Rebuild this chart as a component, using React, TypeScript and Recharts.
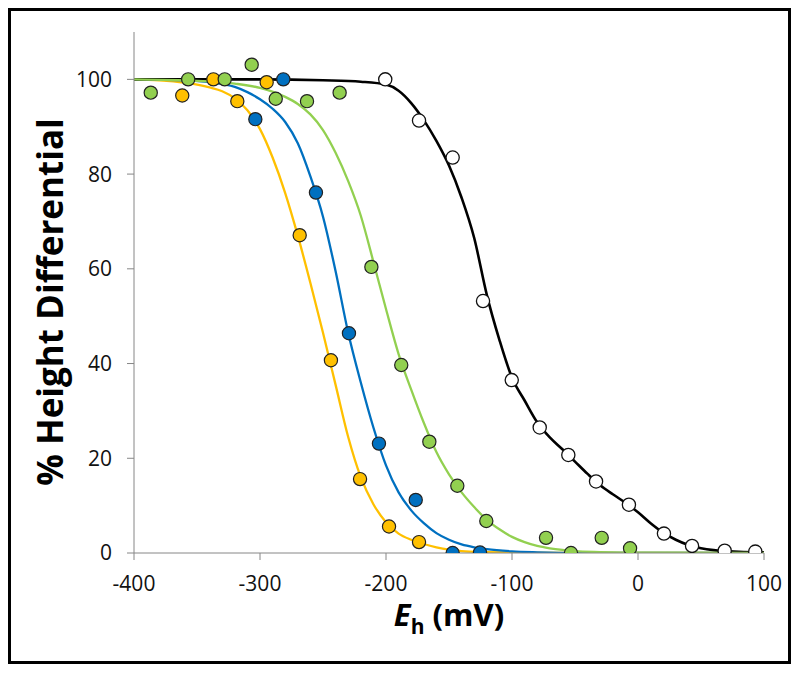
import React from 'react';
import { ComposedChart, Line, Scatter, XAxis, YAxis } from 'recharts';

const xTicks = [-400, -300, -200, -100, 0, 100];
const yTicks = [0, 20, 40, 60, 80, 100];

// Measured points (Eh mV, % height differential)
const blackPoints = [
  { x: -200.6, y: 100 }, { x: -173.8, y: 91.3 }, { x: -147.1, y: 83.5 }, { x: -123, y: 53.2 },
  { x: -100.2, y: 36.5 }, { x: -78, y: 26.5 }, { x: -55.3, y: 20.7 }, { x: -33.3, y: 15.1 },
  { x: -7.2, y: 10.2 }, { x: 20.6, y: 4.1 }, { x: 42.9, y: 1.5 }, { x: 68.8, y: 0.5 }, { x: 93.1, y: 0.3 },
];
const bluePoints = [
  { x: -303.7, y: 91.6 }, { x: -281.5, y: 100 }, { x: -255.6, y: 76.1 }, { x: -229.4, y: 46.4 },
  { x: -205.6, y: 23.1 }, { x: -176.4, y: 11.2 }, { x: -147.1, y: 0 }, { x: -125.4, y: 0.1 },
];
const yellowPoints = [
  { x: -361.7, y: 96.6 }, { x: -337, y: 100 }, { x: -318, y: 95.4 }, { x: -294.7, y: 99.4 },
  { x: -268.5, y: 67.1 }, { x: -243.7, y: 40.7 }, { x: -220.6, y: 15.6 }, { x: -197.6, y: 5.6 },
  { x: -173.8, y: 2.3 },
];
const greenPoints = [
  { x: -386.7, y: 97.2 }, { x: -357, y: 100 }, { x: -328, y: 100 }, { x: -306.6, y: 103.1 },
  { x: -287.5, y: 95.9 }, { x: -262.7, y: 95.4 }, { x: -236.8, y: 97.2 }, { x: -211.6, y: 60.4 },
  { x: -187.9, y: 39.7 }, { x: -165.6, y: 23.5 }, { x: -143.4, y: 14.2 }, { x: -120.4, y: 6.75 },
  { x: -73, y: 3.2 }, { x: -53.2, y: 0 }, { x: -28.8, y: 3.2 }, { x: -6.3, y: 1.0 },
];

// Fitted curves
const blackCurve = [
  { x: -400, y: 100 }, { x: -300, y: 100 }, { x: -250, y: 99.8 }, { x: -220, y: 99.5 },
  { x: -200, y: 98.9 }, { x: -190, y: 97.6 }, { x: -180, y: 95 }, { x: -170, y: 91.4 },
  { x: -160, y: 87 }, { x: -150, y: 81.8 }, { x: -140, y: 75 }, { x: -130, y: 66.5 },
  { x: -120, y: 54.5 }, { x: -110, y: 45 }, { x: -100, y: 37 }, { x: -90, y: 32.2 },
  { x: -80, y: 27.6 }, { x: -70, y: 24.4 }, { x: -60, y: 21.9 }, { x: -50, y: 19.3 },
  { x: -40, y: 16.7 }, { x: -30, y: 14.3 }, { x: -20, y: 12.4 }, { x: -10, y: 10.6 },
  { x: 0, y: 8.6 }, { x: 10, y: 6.3 }, { x: 20, y: 4.3 }, { x: 30, y: 2.8 }, { x: 40, y: 1.7 },
  { x: 50, y: 1.0 }, { x: 60, y: 0.6 }, { x: 70, y: 0.4 }, { x: 80, y: 0.25 }, { x: 100, y: 0.15 },
];
const yellowCurve = [
  { x: -400, y: 100 }, { x: -380, y: 99.8 }, { x: -360, y: 99.3 }, { x: -340, y: 98.3 },
  { x: -330, y: 97.5 }, { x: -320, y: 96 }, { x: -310, y: 93.5 }, { x: -300, y: 89.5 },
  { x: -290, y: 83.5 }, { x: -280, y: 76 }, { x: -270, y: 67 }, { x: -260, y: 57 },
  { x: -250, y: 46.5 }, { x: -240, y: 35.5 }, { x: -230, y: 24.5 }, { x: -220, y: 16 },
  { x: -210, y: 10.3 }, { x: -200, y: 6.5 }, { x: -190, y: 4.1 }, { x: -180, y: 2.8 },
  { x: -170, y: 1.9 }, { x: -160, y: 1.2 }, { x: -150, y: 0.7 }, { x: -140, y: 0.4 },
  { x: -120, y: 0.2 }, { x: -100, y: 0.1 }, { x: -50, y: 0 }, { x: 100, y: 0 },
];
const blueCurve = [
  { x: -400, y: 100 }, { x: -360, y: 99.8 }, { x: -340, y: 99.4 }, { x: -320, y: 98.4 },
  { x: -310, y: 97.3 }, { x: -300, y: 95.8 }, { x: -290, y: 93.8 }, { x: -280, y: 91 },
  { x: -270, y: 86.5 }, { x: -260, y: 79.5 }, { x: -250, y: 71 }, { x: -240, y: 59.5 },
  { x: -230, y: 46.5 }, { x: -220, y: 36 }, { x: -210, y: 26.5 }, { x: -200, y: 18.5 },
  { x: -190, y: 12.8 }, { x: -180, y: 9 }, { x: -170, y: 6.3 }, { x: -160, y: 4.2 },
  { x: -150, y: 2.8 }, { x: -140, y: 1.8 }, { x: -130, y: 1.2 }, { x: -120, y: 0.8 },
  { x: -100, y: 0.35 }, { x: -80, y: 0.15 }, { x: -50, y: 0 }, { x: 100, y: 0 },
];
const greenCurve = [
  { x: -400, y: 100 }, { x: -350, y: 99.7 }, { x: -320, y: 99.1 }, { x: -300, y: 98.2 },
  { x: -280, y: 96.3 }, { x: -270, y: 94.8 }, { x: -260, y: 92.6 }, { x: -250, y: 89.3 },
  { x: -240, y: 84.5 }, { x: -230, y: 78.5 }, { x: -220, y: 71.2 }, { x: -210, y: 61.5 },
  { x: -200, y: 51.5 }, { x: -190, y: 42 }, { x: -180, y: 34.5 }, { x: -170, y: 27.5 },
  { x: -160, y: 21.3 }, { x: -150, y: 16.6 }, { x: -140, y: 12.8 }, { x: -130, y: 9.7 },
  { x: -120, y: 7 }, { x: -110, y: 5 }, { x: -100, y: 3.4 }, { x: -90, y: 2.3 },
  { x: -80, y: 1.5 }, { x: -70, y: 1 }, { x: -60, y: 0.65 }, { x: -50, y: 0.4 },
  { x: -30, y: 0.2 }, { x: 0, y: 0.05 }, { x: 100, y: 0 },
];

const YELLOW = '#FFC000';
const BLUE = '#0070C0';
const GREEN = '#92D050';
const AXIS = '#868686';
const FONT = '"Open Sans", "Liberation Sans", sans-serif';

const dotShape = (fill: string, stroke: string, sw: number) => (props: any) => (
  <circle cx={props.cx} cy={props.cy} r={6.6} fill={fill} stroke={stroke} strokeWidth={sw} />
);

export default function App() {
  return (
    <div style={{ position: 'absolute', left: 0, top: 0, width: 800, height: 673, background: '#fff' }}>
      <ComposedChart width={800} height={673} margin={{ top: 32, right: 36, bottom: 90, left: 74 }}>
        <XAxis
          type="number"
          dataKey="x"
          domain={[-400, 100]}
          ticks={xTicks}
          height={30}
          allowDataOverflow
          stroke={AXIS}
          tickSize={7}
          tickMargin={16}
          tick={{ fill: '#111', fontSize: 21, fontFamily: FONT }}
        />
        <YAxis
          type="number"
          dataKey="y"
          domain={[0, 110]}
          ticks={yTicks}
          width={60}
          allowDataOverflow
          stroke={AXIS}
          tickSize={7}
          tickMargin={15}
          tick={{ fill: '#111', fontSize: 21, fontFamily: FONT }}
        />
        <Line data={yellowCurve} dataKey="y" type="monotone" stroke={YELLOW} strokeWidth={2.3} dot={false} isAnimationActive={false} />
        <Line data={blueCurve} dataKey="y" type="monotone" stroke={BLUE} strokeWidth={2.3} dot={false} isAnimationActive={false} />
        <Line data={blackCurve} dataKey="y" type="monotone" stroke="#000" strokeWidth={2.6} dot={false} isAnimationActive={false} />
        <Line data={greenCurve} dataKey="y" type="monotone" stroke={GREEN} strokeWidth={2.3} dot={false} isAnimationActive={false} />
        <Scatter data={yellowPoints} dataKey="y" shape={dotShape(YELLOW, '#222', 1.2)} isAnimationActive={false} />
        <Scatter data={greenPoints} dataKey="y" shape={dotShape(GREEN, '#222', 1.2)} isAnimationActive={false} />
        <Scatter data={bluePoints} dataKey="y" shape={dotShape(BLUE, '#222', 1.2)} isAnimationActive={false} />
        <Scatter data={blackPoints} dataKey="y" shape={dotShape('#fff', '#111', 1.3)} isAnimationActive={false} />
      </ComposedChart>
      <svg width={800} height={673} style={{ position: 'absolute', left: 0, top: 0, pointerEvents: 'none' }}>
        <rect x={9.5} y={9.5} width={780} height={653} fill="none" stroke="#000" strokeWidth={3} />
        <text
          x={63}
          y={302}
          transform="rotate(-90 63 302)"
          textAnchor="middle"
          fontFamily={FONT}
          fontWeight="bold"
          fontSize={35}
          fill="#000"
        >
          % Height Differential
        </text>
        <text x={449} y={626} textAnchor="middle" fontFamily={FONT} fontWeight="bold" fontSize={31} fill="#000">
          <tspan fontStyle="italic">E</tspan>
          <tspan fontSize={21} dy={8}>h</tspan>
          <tspan dy={-8}> (mV)</tspan>
        </text>
      </svg>
    </div>
  );
}
